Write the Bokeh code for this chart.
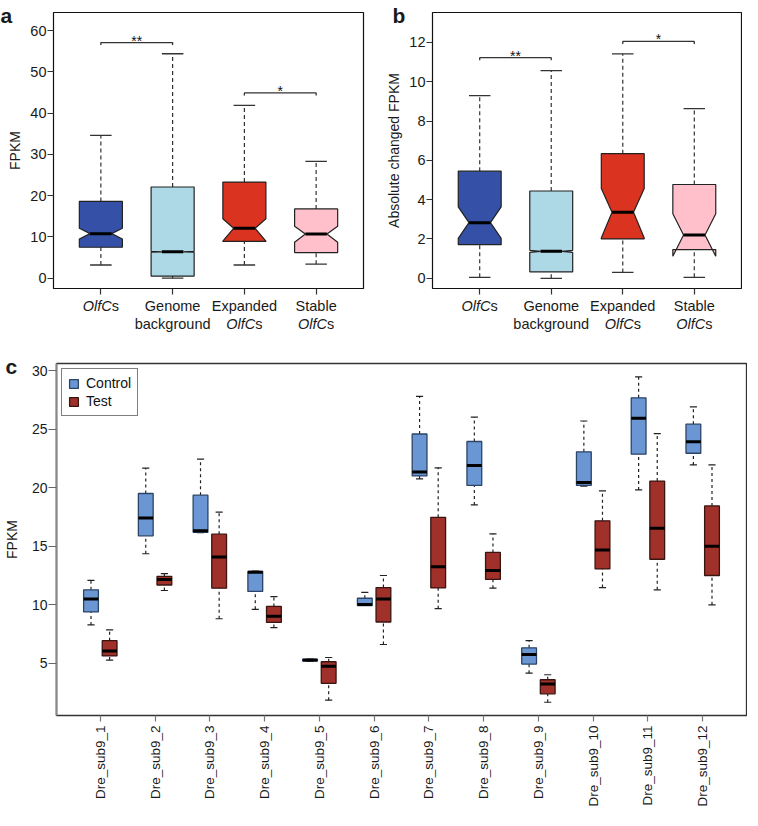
import numpy as np
from bokeh.plotting import figure
from bokeh.models import Range1d, FixedTicker, Legend, LegendItem
from bokeh.layouts import column, row
from bokeh.embed import file_html
from bokeh.resources import INLINE
from bokeh.core.properties import value

FONT = "Liberation Sans"

# ---------------- panels a / b : categories ----------------
ab_positions = [1, 2, 3, 4]
ab_label_lines = [
    [[("OlfC", "italic"), ("s", "normal")]],
    [[("Genome", "normal")], [("background", "normal")]],
    [[("Expanded", "normal")], [("OlfC", "italic"), ("s", "normal")]],
    [[("Stable", "normal")], [("OlfC", "italic"), ("s", "normal")]],
]
ab_colors = ["#3451A7", "#ADD8E6", "#DA3420", "#FFC0CB"]

# panel a : FPKM
a_low = [3.2, 0.0, 3.2, 3.4]
a_q1 = [7.5, 0.5, 8.9, 6.2]
a_med = [10.8, 6.4, 12.1, 10.7]
a_q3 = [18.6, 22.1, 23.3, 16.8]
a_high = [34.6, 54.4, 41.9, 28.3]
a_notch_lo = [9.5, 6.3, 9.0, 8.7]
a_notch_hi = [12.1, 6.5, 14.4, 12.6]
a_ticks = [0, 10, 20, 30, 40, 50, 60]
a_sig_pairs = [[1, 2], [3, 4]]
a_sig_y = [57.1, 44.9]
a_sig_text = ["**", "*"]

# panel b : absolute changed FPKM
b_low = [0.05, 0.0, 0.3, 0.05]
b_q1 = [1.71, 0.33, 2.0, 1.46]
b_med = [2.83, 1.37, 3.36, 2.2]
b_q3 = [5.45, 4.44, 6.34, 4.77]
b_high = [9.29, 10.56, 11.42, 8.63]
b_notch_lo = [2.03, 1.32, 2.05, 1.12]
b_notch_hi = [3.63, 1.42, 4.57, 3.28]
b_ticks = [0, 2, 4, 6, 8, 10, 12]
b_sig_pairs = [[1, 2], [3, 4]]
b_sig_y = [11.22, 12.05]
b_sig_text = ["**", "*"]

# ---------------- panel c ----------------
c_groups = ["Dre_sub9_1", "Dre_sub9_2", "Dre_sub9_3", "Dre_sub9_4", "Dre_sub9_5",
            "Dre_sub9_6", "Dre_sub9_7", "Dre_sub9_8", "Dre_sub9_9", "Dre_sub9_10",
            "Dre_sub9_11", "Dre_sub9_12"]
c_ticks = [5, 10, 15, 20, 25, 30]
ctrl_low = [8.28, 14.36, 16.15, 9.61, 5.17, 9.94, 20.75, 18.53, 4.16, 20.14, 19.81, 21.94]
ctrl_q1 = [9.39, 15.89, 16.19, 11.14, 5.20, 9.94, 21.0, 20.19, 4.94, 20.19, 22.86, 22.94]
ctrl_med = [10.5, 17.42, 16.33, 12.78, 5.28, 10.03, 21.33, 21.89, 5.75, 20.44, 25.92, 23.92]
ctrl_q3 = [11.28, 19.5, 19.36, 12.86, 5.33, 10.56, 24.58, 23.94, 6.33, 23.06, 27.67, 25.42]
ctrl_high = [12.08, 21.67, 22.44, 12.88, 5.36, 11.06, 27.8, 26.03, 6.94, 25.69, 29.45, 26.89]

test_low = [5.28, 11.22, 8.81, 8.06, 1.86, 6.61, 9.67, 11.42, 1.68, 11.47, 11.28, 10.0]
test_q1 = [5.64, 11.69, 11.42, 8.5, 3.3, 8.53, 11.44, 12.17, 2.4, 13.06, 13.89, 12.5]
test_med = [6.05, 12.17, 14.08, 9.03, 4.75, 10.5, 13.25, 12.92, 3.24, 14.67, 16.53, 15.0]
test_q3 = [6.94, 12.42, 16.03, 9.86, 5.14, 11.47, 17.47, 14.47, 3.6, 17.17, 20.56, 18.44]
test_high = [7.86, 12.67, 17.92, 10.69, 5.5, 12.5, 21.69, 16.06, 4.03, 19.72, 24.61, 21.94]

legend_labels = ["Control", "Test"]
c_fill = ["#6B96D4", "#A0302A"]
c_edge = ["#2C4466", "#3A1410"]

EM = {"O": 0.778, "l": 0.222, "f": 0.278, "C": 0.722, "s": 0.5}


def seg_width(t, fs):
    return sum(EM.get(ch, 0.556) for ch in t) * fs


def style_axes(p, fs="14px", tfs="14.5px", lab_standoff=4):
    for ax in p.axis:
        ax.major_label_text_font = FONT
        ax.major_label_text_font_size = tfs
        ax.major_label_text_color = "#1a1a1a"
        ax.axis_label_text_font = FONT
        ax.axis_label_text_font_size = fs
        ax.axis_label_text_font_style = "normal"
        ax.axis_label_text_color = "#1a1a1a"
        ax.minor_tick_line_color = None
        ax.major_tick_in = 0
        ax.major_tick_out = 6
        ax.major_label_standoff = 1
        ax.axis_label_standoff = lab_standoff
        ax.major_tick_line_color = "#333333"
        ax.major_tick_line_width = 1.2


def free_text(p, x, y, text, size, style="normal", align="left", baseline="alphabetic"):
    # text glyph drawn at the overlay level so it may sit outside the frame
    p.text(x=[x], y=[y], text=[text], text_font=value(FONT), text_font_size=size,
           text_font_style=style, text_align=align, text_baseline=baseline,
           text_color="#1a1a1a", level="overlay")


def notched_panel(width, left, right, yr, ticks, ylabel, low, q1, med, q3, high,
                  nlo, nhi, sig_pairs, sig_y, sig_text, tag, tag_dx):
    H, top, bottom = 342, 12, 54
    xr = (0.34, 4.66)
    p = figure(width=width, height=H, x_range=Range1d(*xr), y_range=Range1d(*yr),
               output_backend="svg", toolbar_location=None, title=None,
               min_border_left=left, min_border_right=right,
               min_border_top=top, min_border_bottom=bottom)
    p.grid.visible = False
    p.outline_line_color = "#111111"
    p.outline_line_width = 1.2
    p.background_fill_color = "white"
    p.border_fill_color = "white"
    style_axes(p)
    p.xaxis.ticker = FixedTicker(ticks=ab_positions)
    p.xaxis.major_label_overrides = {k: "" for k in ab_positions}
    p.xaxis.axis_line_color = None
    p.yaxis.axis_line_color = None
    p.yaxis.ticker = FixedTicker(ticks=ticks)
    p.yaxis.axis_label = ylabel

    frame_h = H - top - bottom
    frame_w = width - left - right
    upp = (yr[1] - yr[0]) / frame_h
    xpp = (xr[1] - xr[0]) / frame_w

    hw, nw, cw = 0.3, 0.15, 0.15
    xs = ab_positions
    p.segment(x0=xs, y0=q3, x1=xs, y1=high, line_color="#333333", line_width=1.2, line_dash="4 3")
    p.segment(x0=xs, y0=low, x1=xs, y1=q1, line_color="#333333", line_width=1.2, line_dash="4 3")
    p.segment(x0=[x - cw for x in xs], y0=high, x1=[x + cw for x in xs], y1=high,
              line_color="#333333", line_width=1.3)
    p.segment(x0=[x - cw for x in xs], y0=low, x1=[x + cw for x in xs], y1=low,
              line_color="#333333", line_width=1.3)
    pxs, pys = [], []
    for x, a1, m, a3, lo_, hi_ in zip(xs, q1, med, q3, nlo, nhi):
        pxs.append([x - hw, x - hw, x - nw, x - hw, x - hw, x + hw, x + hw, x + nw, x + hw, x + hw])
        pys.append([a1, lo_, m, hi_, a3, a3, hi_, m, lo_, a1])
    p.patches(pxs, pys, fill_color=ab_colors, line_color="#222222", line_width=1.2)
    p.segment(x0=[x - nw for x in xs], y0=med, x1=[x + nw for x in xs], y1=med,
              line_color="black", line_width=3)

    drop = 2.5 * upp
    for (i, j), y, t in zip(sig_pairs, sig_y, sig_text):
        p.line([i, i, j, j], [y - drop, y, y, y - drop], line_color="#333333", line_width=1.3)
        p.text(x=[(i + j) / 2], y=[y + 2 * upp], text=[t], text_align="center",
               text_baseline="alphabetic", text_font=value(FONT), text_font_size="14px",
               text_color="#111111")

    fs = 14.5
    for pos, lines in zip(ab_positions, ab_label_lines):
        for li, segs in enumerate(lines):
            yy = yr[0] - (17.6 + 17.6 * li) * upp
            if len(segs) == 1:
                free_text(p, pos, yy, segs[0][0], f"{fs}px", segs[0][1], "center", "middle")
            else:
                total = sum(seg_width(s, fs) for s, _ in segs)
                start = -total / 2
                for s, st in segs:
                    free_text(p, pos + start * xpp, yy, s, f"{fs}px", st, "left", "middle")
                    start += seg_width(s, fs)
    free_text(p, xr[0] + tag_dx * xpp, yr[1] - 3 * upp, tag, "21px", "bold")
    return p


pa = notched_panel(365, 53, 2, (-2.5, 64.4), a_ticks, "FPKM",
                   a_low, a_q1, a_med, a_q3, a_high, a_notch_lo, a_notch_hi,
                   a_sig_pairs, a_sig_y, a_sig_text, "a", -53)
pb = notched_panel(377, 67, 1, (-0.52, 13.52), b_ticks, "Absolute changed FPKM",
                   b_low, b_q1, b_med, b_q3, b_high, b_notch_lo, b_notch_hi,
                   b_sig_pairs, b_sig_y, b_sig_text, "b", -40)

# ---------------- panel c ----------------
cxr = (0.2, 12.8)
cyr = (0.55, 30.6)
CL, CR, CT, CB = 51, 1, 21, 95
CFW, CFH = 690, 352
pc = figure(frame_width=CFW, frame_height=CFH, x_range=Range1d(*cxr), y_range=Range1d(*cyr),
            output_backend="svg", toolbar_location=None, title=None,
            min_border_left=CL, min_border_right=CR, min_border_top=CT, min_border_bottom=CB)
pc.grid.visible = False
pc.outline_line_color = "#333333"
pc.outline_line_width = 1.3
style_axes(pc, tfs="14px", lab_standoff=9)
xc = list(range(1, len(c_groups) + 1))
pc.xaxis.ticker = FixedTicker(ticks=xc)
pc.xaxis.major_label_overrides = {i: g for i, g in zip(xc, c_groups)}
pc.xaxis.major_label_orientation = np.pi / 2
pc.xaxis.major_label_text_font_size = "13.5px"
pc.xaxis.major_tick_out = 6
pc.xaxis.major_label_standoff = 4
pc.xaxis.axis_line_color = None
pc.xaxis.major_tick_line_color = "#777777"
pc.yaxis.ticker = FixedTicker(ticks=c_ticks)
pc.yaxis.axis_label = "FPKM"
pc.yaxis.axis_line_color = "#888888"
pc.yaxis.axis_line_width = 2
pc.yaxis.major_tick_line_color = "#666666"
pc.yaxis.major_tick_out = 8

hw, cw, off = 0.135, 0.065, 0.17
renderers = []
series = [
    (ctrl_low, ctrl_q1, ctrl_med, ctrl_q3, ctrl_high, -off),
    (test_low, test_q1, test_med, test_q3, test_high, off),
]
for k, (low, q1, med, q3, high, dx) in enumerate(series):
    xs = [x + dx for x in xc]
    pc.segment(x0=xs, y0=q3, x1=xs, y1=high, line_color="#222222", line_width=1.2, line_dash="3 3")
    pc.segment(x0=xs, y0=low, x1=xs, y1=q1, line_color="#222222", line_width=1.2, line_dash="3 3")
    pc.segment(x0=[x - cw for x in xs], y0=high, x1=[x + cw for x in xs], y1=high,
               line_color="#222222", line_width=1.2)
    pc.segment(x0=[x - cw for x in xs], y0=low, x1=[x + cw for x in xs], y1=low,
               line_color="#222222", line_width=1.2)
    r = pc.quad(left=[x - hw for x in xs], right=[x + hw for x in xs], bottom=q1, top=q3,
                fill_color=c_fill[k], line_color=c_edge[k], line_width=1.3)
    renderers.append(r)
    pc.segment(x0=[x - hw for x in xs], y0=med, x1=[x + hw for x in xs], y1=med,
               line_color="black", line_width=3)

legend = Legend(items=[LegendItem(label=lab, renderers=[r]) for lab, r in zip(legend_labels, renderers)],
                location="top_left", margin=5, padding=6, spacing=2,
                glyph_width=11, glyph_height=11, label_standoff=7, label_height=15,
                label_text_font=FONT, label_text_font_size="14px", label_text_color="#111111",
                border_line_color="black", border_line_width=1.2,
                background_fill_color="white", background_fill_alpha=1)
pc.add_layout(legend)

c_upp = (cyr[1] - cyr[0]) / CFH
c_xpp = (cxr[1] - cxr[0]) / CFW
free_text(pc, cxr[0] - CL * c_xpp, cyr[1] - 2.5 * c_upp, "c", "21px", "bold")

layout = column(row(pa, pb), pc)
open("out.html", "w").write(file_html(layout, INLINE, "chart"))
